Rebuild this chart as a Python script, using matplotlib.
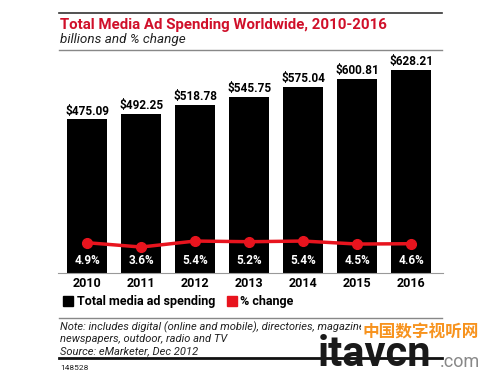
import matplotlib.pyplot as plt
from matplotlib.lines import Line2D
from matplotlib.patches import Patch

plt.rcParams["font.family"] = ["Roboto", "DejaVu Sans"]

# data
years = ["2010", "2011", "2012", "2013", "2014", "2015", "2016"]
spending = [475.09, 492.25, 518.78, 545.75, 575.04, 600.81, 628.21]
pct_change = [4.9, 3.6, 5.4, 5.2, 5.4, 4.5, 4.6]

W, H = 500, 375
fig = plt.figure(figsize=(5, 3.75), dpi=100)


def fx(px):
    return px / W


def fy(py):
    return 1 - py / H


def hline(y, x0, x1, color, lw):
    fig.add_artist(Line2D([fx(x0), fx(x1)], [fy(y), fy(y)], color=color, lw=lw,
                          transform=fig.transFigure))


# header
hline(13, 59, 442, "#333333", 1.2)
fig.text(fx(60), fy(25), "Total Media Ad Spending Worldwide, 2010-2016",
         color="#d0102a", fontsize=10.8, fontweight="bold", va="center")
fig.text(fx(60), fy(40), "billions and % change", color="#222222",
         fontsize=9.7, style="italic", va="center")
hline(50, 59, 442, "#888888", 1.0)

# bars
ax = fig.add_axes([fx(58), fy(273), fx(443) - fx(58), (273 - 55) / H])
x = range(len(years))
ax.bar(x, spending, width=0.74, color="black")
for i, v in enumerate(spending):
    ax.text(i, v + 6, f"${v:.2f}", ha="center", va="bottom",
            fontsize=8.5, fontweight="bold")
ax.set_xlim(-0.54, 6.59)
ax.set_ylim(0, 674.6)
ax.set_yticks([])
ax.set_xticks(list(x))
ax.set_xticklabels(years, fontsize=9, fontweight="bold")
ax.tick_params(axis="x", length=0, pad=3)
for s in ["top", "left", "right"]:
    ax.spines[s].set_visible(False)
ax.spines["bottom"].set_color("#999999")

# % change line
ax2 = ax.twinx()
ax2.plot(x, pct_change, color="#e8141e", lw=2.5, marker="o", markersize=7)
for i, v in enumerate(pct_change):
    ax2.text(i, -0.5, f"{v}%", ha="center", va="center", color="white",
             fontsize=8.5, fontweight="bold")
ax2.set_ylim(-4.2, 61.3)
ax2.axis("off")

# legend
handles = [Patch(color="black"), Patch(color="#e8141e")]
fig.legend(handles, ["Total media ad spending", "% change"],
           loc="center left", bbox_to_anchor=(fx(52), fy(302)), ncol=2,
           frameon=False, handlelength=0.8, handleheight=0.8,
           handletextpad=0.3, columnspacing=0.9,
           prop={"weight": "bold", "size": 9})

# notes
hline(318, 59, 442, "#888888", 1.0)
notes = ["Note: includes digital (online and mobile), directories, magazines,",
         "newspapers, outdoor, radio and TV",
         "Source: eMarketer, Dec 2012"]
for k, t in enumerate(notes):
    fig.text(fx(60), fy(327 + 12 * k), t, fontsize=8, style="italic",
             color="#222222", va="center")
hline(358, 59, 442, "#111111", 2.0)
fig.text(fx(60), fy(368), "148528", fontsize=6, color="#222222", va="center")

# watermark
fig.text(fx(362), fy(332), "中国数字视听网", family=["Noto Sans CJK SC", "DejaVu Sans"],
         fontsize=12, fontweight="bold", color="#f7931e", va="center",
         bbox=dict(facecolor="white", edgecolor="none", pad=0.5))
fig.text(fx(318), fy(355), "itavcn", fontsize=30, fontweight="bold",
         color="#1a1a1a", va="center")
fig.text(fx(440), fy(362), ".com", fontsize=13, color="#888888", va="center")

fig.savefig("out.png", dpi=100)
